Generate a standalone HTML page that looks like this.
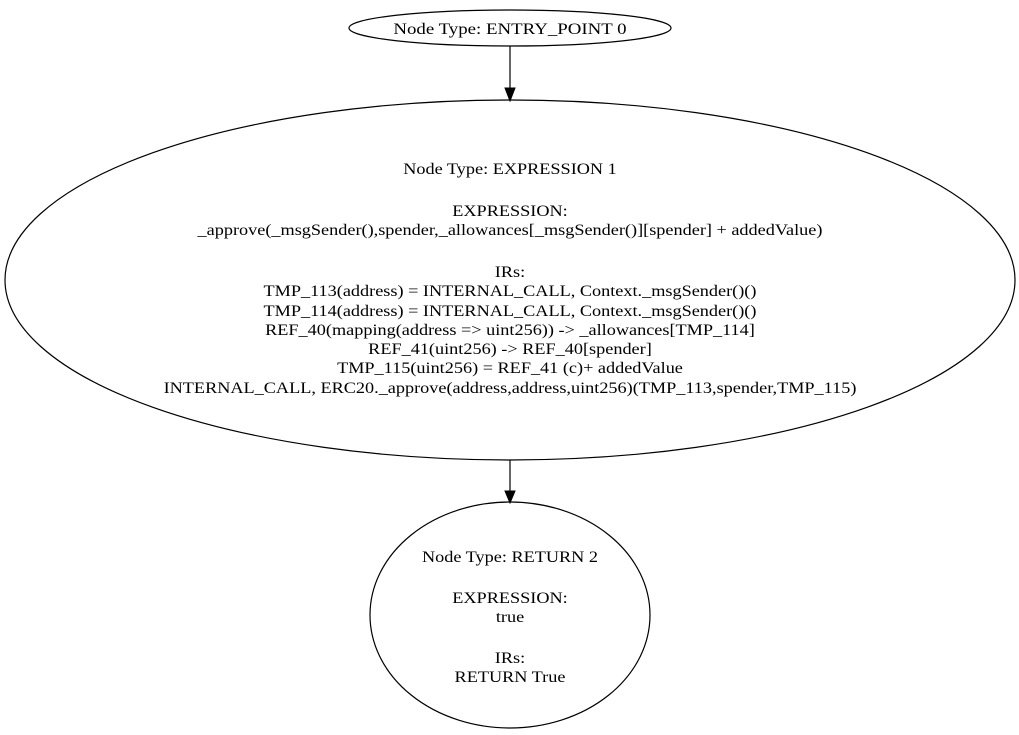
<!DOCTYPE html>
<html><head><meta charset="utf-8"><style>
html,body{margin:0;padding:0;background:#fff;}
svg text{font-family:"Liberation Serif",serif;font-size:16px;fill:#000;}
</style></head><body>
<svg width="1019" height="730" viewBox="0 0 1019 730" xmlns="http://www.w3.org/2000/svg">
<rect width="1019" height="730" fill="#fff"/>
<g fill="none" stroke="#000" stroke-width="1.2">
<ellipse cx="510" cy="28" rx="161" ry="18"/>
<ellipse cx="510" cy="280" rx="505" ry="180"/>
<ellipse cx="510" cy="615" rx="140" ry="113"/>
<line x1="510" y1="46" x2="510" y2="88"/>
<line x1="510" y1="460" x2="510" y2="491"/>
</g>
<polygon points="505,88 515,88 510,101" fill="#000" stroke="#000"/>
<polygon points="505,491 515,491 510,503" fill="#000" stroke="#000"/>
<g text-anchor="middle" transform="translate(510,0) scale(1.18,1) translate(-510,0)">
<text x="510" y="34">Node Type: ENTRY_POINT 0</text>
</g>
<g text-anchor="middle" transform="translate(510,0) scale(1.14,1) translate(-510,0)">
<text x="510" y="174">Node Type: EXPRESSION 1</text>
<text x="510" y="216">EXPRESSION:</text>
<text x="510" y="235">_approve(_msgSender(),spender,_allowances[_msgSender()][spender] + addedValue)</text>
<text x="510" y="277">IRs:</text>
<text x="510" y="296">TMP_113(address) = INTERNAL_CALL, Context._msgSender()()</text>
<text x="510" y="316">TMP_114(address) = INTERNAL_CALL, Context._msgSender()()</text>
<text x="510" y="335">REF_40(mapping(address =&gt; uint256)) -&gt; _allowances[TMP_114]</text>
<text x="510" y="354">REF_41(uint256) -&gt; REF_40[spender]</text>
<text x="510" y="373">TMP_115(uint256) = REF_41 (c)+ addedValue</text>
<text x="510" y="393">INTERNAL_CALL, ERC20._approve(address,address,uint256)(TMP_113,spender,TMP_115)</text>
<text x="510" y="562">Node Type: RETURN 2</text>
<text x="510" y="603">EXPRESSION:</text>
<text x="510" y="622">true</text>
<text x="510" y="663">IRs:</text>
<text x="510" y="682">RETURN True</text>
</g>
</svg>
</body></html>
